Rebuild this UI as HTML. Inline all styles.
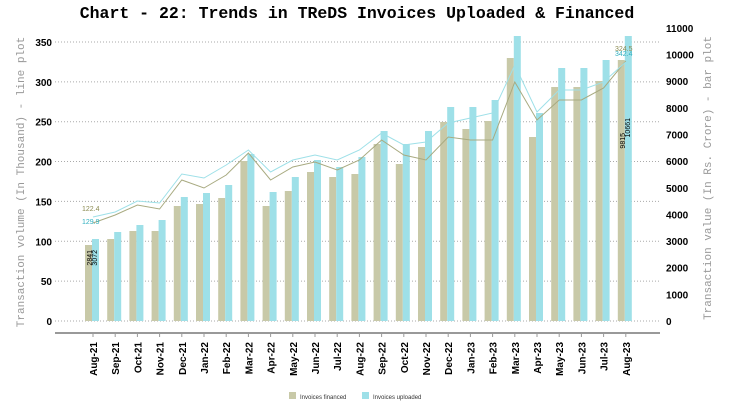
<!DOCTYPE html>
<html><head><meta charset="utf-8"><style>
html,body{margin:0;padding:0;background:#fff;}
svg{display:block;}
</style></head><body>
<svg id="c" width="734" height="418" xmlns="http://www.w3.org/2000/svg">
<text x="357" y="18" text-anchor="middle" font-family="Liberation Mono, monospace" font-weight="bold" font-size="16.5">Chart - 22: Trends in TReDS Invoices Uploaded &amp; Financed</text>
<g id="g"></g>
<text transform="translate(24,182) rotate(-90)" text-anchor="middle" font-family="Liberation Mono, monospace" font-size="11" fill="#999">Transaction volume (In Thousand) - line plot</text>
<text transform="translate(711,178) rotate(-90)" text-anchor="middle" font-family="Liberation Mono, monospace" font-size="11" fill="#999">Transaction value (In Rs. Crore) - bar plot</text>
<rect x="289" y="392" width="7" height="7" fill="#c8c9a8"/>
<text x="300" y="399" font-family="Liberation Sans, sans-serif" font-size="6" fill="#333">Invoices financed</text>
<rect x="362" y="392" width="7" height="7" fill="#9ee0e8"/>
<text x="373" y="399" font-family="Liberation Sans, sans-serif" font-size="6" fill="#333">Invoices uploaded</text>
</svg>
<script>
var g=document.getElementById('g'),s='';
var months=['Aug-21','Sep-21','Oct-21','Nov-21','Dec-21','Jan-22','Feb-22','Mar-22','Apr-22','May-22','Jun-22','Jul-22','Aug-22','Sep-22','Oct-22','Nov-22','Dec-22','Jan-23','Feb-23','Mar-23','Apr-23','May-23','Jun-23','Jul-23','Aug-23'];
var bf=[245,239,231,231,206,204,198,161,206,191,172,177,174,144,164,147,122,129,121,58,137,87,87,81,60];
var bu=[239,232,225,220,197,193,185,154,192,177,160,167,157,131,144,131,107,107,100,36,113,68,68,60,36];
var lf=[223,215,205,209,180,188,175,153,180,167,162,170,160,140,155,160,137,140,140,82,120,100,100,88,61];
var lu=[217,212,201,203,174,178,165,150,172,160,155,160,150,133,145,142,123,118,113,65,112,90,90,82,62];
var F='font-family="Liberation Sans, sans-serif"';
for(var i=0;i<=7;i++){var y=321-i*39.86;s+='<line x1="55" x2="660" y1="'+y+'" y2="'+y+'" stroke="#aaa" stroke-dasharray="1,2" stroke-width="1"/>';
s+='<text x="52" y="'+(y+4)+'" text-anchor="end" '+F+' font-weight="bold" font-size="10">'+(i*50)+'</text>';}
for(var i=0;i<=11;i++){var y=321-i*26.64;s+='<text x="666" y="'+(y+4)+'" '+F+' font-weight="bold" font-size="10">'+(i*1000)+'</text>';}
s+='<line x1="55" x2="660" y1="333" y2="333" stroke="#999" stroke-width="2"/>';
var pf='',pu='';
for(var i=0;i<25;i++){var x=93+i*22.2;
s+='<rect x="'+(x-8)+'" y="'+bf[i]+'" width="7" height="'+(321-bf[i])+'" fill="#c8c9a8"/>';
s+='<rect x="'+(x-1)+'" y="'+bu[i]+'" width="7" height="'+(321-bu[i])+'" fill="#9ee0e8"/>';
s+='<line x1="'+x+'" x2="'+x+'" y1="334" y2="337" stroke="#999"/>';
s+='<text transform="translate('+(x+4)+',342) rotate(-90)" text-anchor="end" '+F+' font-weight="bold" font-size="10">'+months[i]+'</text>';
pf+=(i?'L':'M')+x+','+lf[i];pu+=(i?'L':'M')+x+','+lu[i];}
s+='<path d="'+pf+'" fill="none" stroke="#a8aa80" stroke-width="1"/>';
s+='<path d="'+pu+'" fill="none" stroke="#9ee0e8" stroke-width="1"/>';
s+='<text x="82" y="211" '+F+' font-size="7" fill="#8a8a50">122.4</text>';
s+='<text x="82" y="224" '+F+' font-size="7" fill="#30b0c0">129.9</text>';
s+='<text transform="translate(92,250) rotate(-90)" text-anchor="end" '+F+' font-size="7">2841</text>';
s+='<text transform="translate(97,250) rotate(-90)" text-anchor="end" '+F+' font-size="7">3072</text>';
s+='<text x="615" y="51" '+F+' font-size="7" fill="#8a8a50">324.5</text>';
s+='<text x="615" y="56" '+F+' font-size="7" fill="#30b0c0">342.4</text>';
s+='<text transform="translate(625,133) rotate(-90)" text-anchor="end" '+F+' font-size="7">9815</text>';
s+='<text transform="translate(630,118) rotate(-90)" text-anchor="end" '+F+' font-size="7">10661</text>';
g.innerHTML=s;
</script>
</body></html>
